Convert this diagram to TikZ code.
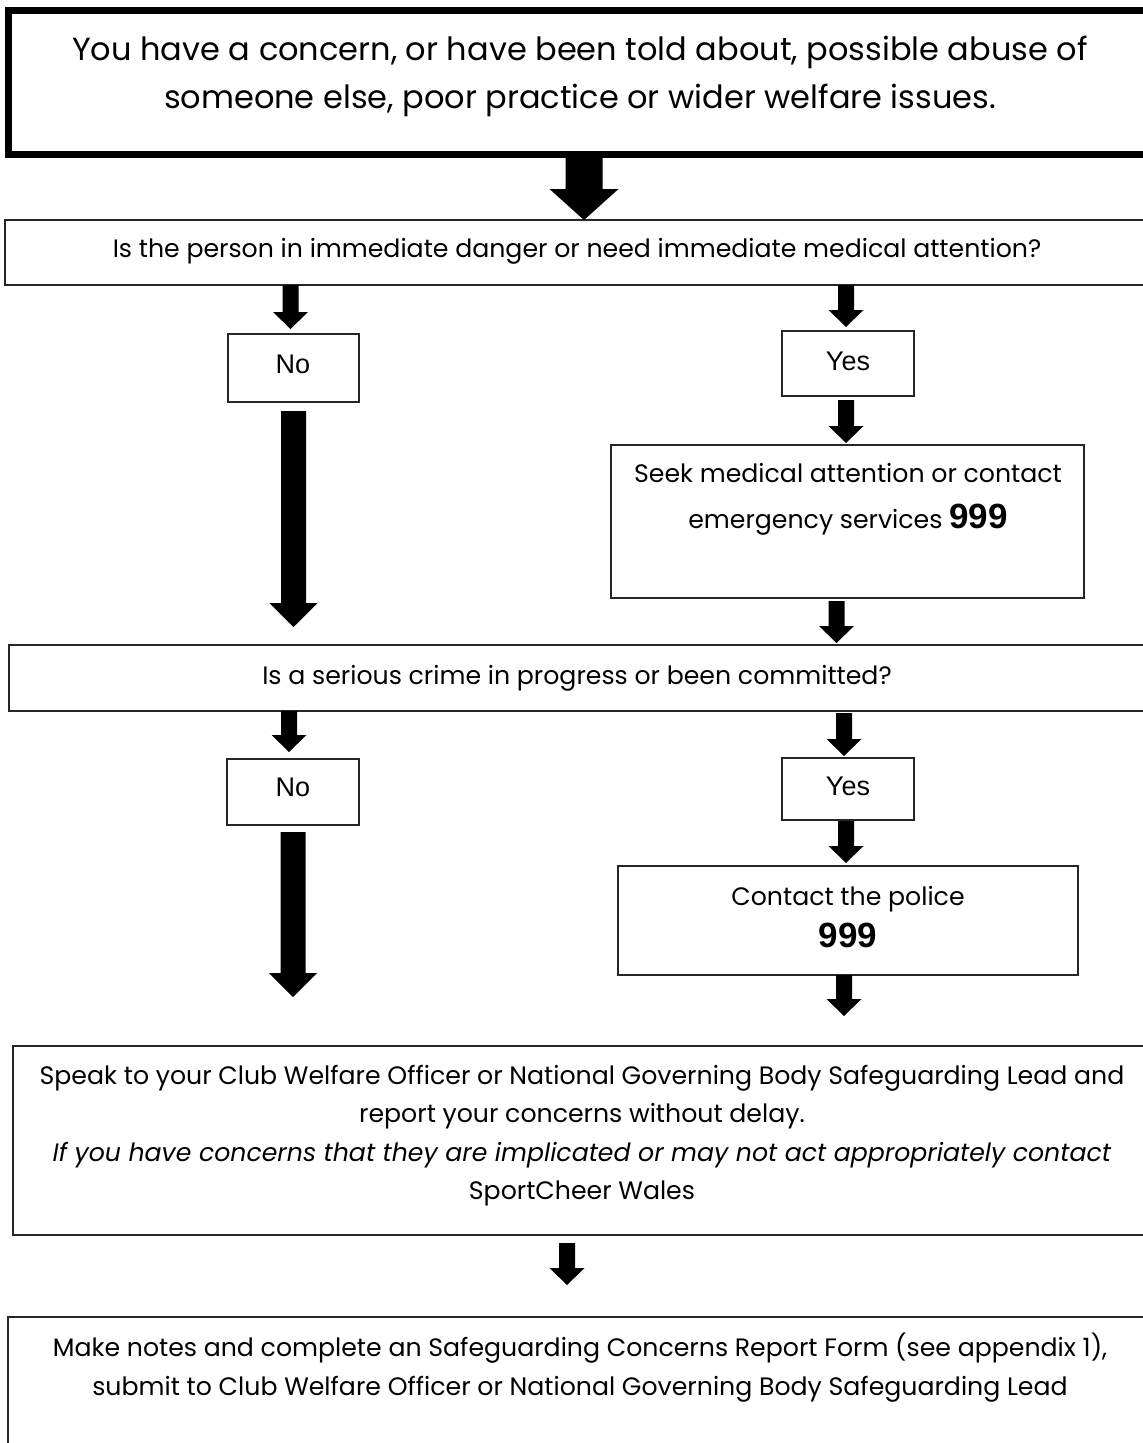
\documentclass[tikz,border=0pt]{standalone}
\usepackage{fontspec}
\setmainfont{Poppins}
\newfontfamily\arialfont{Liberation Sans}
\usetikzlibrary{calc}
% block arrow from #1 to tip #2; half shaft width #3, half head width #4, head length #5 (pt)
\newcommand\blkarrow[5]{%
  \fill let \p1=(#1), \p2=(#2) in
    (\x1-#3pt,\y1) -- (\x1+#3pt,\y1) -- (\x1+#3pt,\y2+#5pt) -- (\x1+#4pt,\y2+#5pt)
    -- (\x1,\y2) -- (\x1-#4pt,\y2+#5pt) -- (\x1-#3pt,\y2+#5pt) -- cycle;}
\begin{document}
\begin{tikzpicture}[x=1pt,y=-1pt,
  box/.style={draw=black!85, line width=1.5pt, rectangle, inner sep=0pt, outer sep=0pt},
  txt/.style={align=center, inner sep=0pt, font=\fontsize{25.2}{38}\selectfont},
  yn/.style={inner sep=0pt, font=\arialfont\fontsize{27}{30}\selectfont},
]
\useasboundingbox (0,0) rectangle (1143,1443);
\clip (0,0) rectangle (1143,1443);
% boxes
\node[box, line width=7pt, draw=black, minimum width=1152pt, minimum height=144pt] (top) at (584,82) {};
\node[box, minimum width=1155pt, minimum height=65pt] (q1) at (582.5,252.5) {};
\node[box, minimum width=131pt, minimum height=68pt] (no1) at (293.5,368) {};
\node[box, minimum width=132pt, minimum height=65pt] (yes1) at (848,363.5) {};
\node[box, minimum width=473pt, minimum height=153pt] (seek) at (847.5,521.5) {};
\node[box, minimum width=1151pt, minimum height=66pt] (q2) at (584.5,678) {};
\node[box, minimum width=132pt, minimum height=66pt] (no2) at (293,792) {};
\node[box, minimum width=132pt, minimum height=62pt] (yes2) at (848,789) {};
\node[box, minimum width=460pt, minimum height=109pt] (police) at (848,920.5) {};
\node[box, minimum width=1147pt, minimum height=189pt] (speak) at (586.5,1140.5) {};
\node[box, minimum width=1152pt, minimum height=143pt] (last) at (584,1388.5) {};
% texts
\node[txt, font=\fontsize{32}{48}\selectfont] (topt) at (580,76) {You have a concern, or have been told about, possible abuse of\\someone else, poor practice or wider welfare issues.};
\node[txt] (q1t) at (577,251) {Is the person in immediate danger or need immediate medical attention?};
\node[yn] (no1t) at (293,364) {No};
\node[yn] (yes1t) at (848,361) {Yes};
\node[txt, font=\fontsize{25.2}{46}\selectfont] (seekt) at (848,499) {Seek medical attention or contact\\emergency services {\arialfont\bfseries\fontsize{35}{46}\selectfont 999}};
\node[txt] (q2t) at (577,678) {Is a serious crime in progress or been committed?};
\node[yn] (no2t) at (293,787) {No};
\node[yn] (yes2t) at (848,786) {Yes};
\node[txt, font=\fontsize{25.2}{42}\selectfont] (policet) at (848,917) {Contact the police\\{\arialfont\bfseries\fontsize{35}{42}\selectfont 999}};
\node[txt, font=\fontsize{25.2}{38.3}\selectfont] (speakt) at (582,1135.5) {Speak to your Club Welfare Officer or National Governing Body Safeguarding Lead and\\report your concerns without delay.\\\textit{If you have concerns that they are implicated or may not act appropriately contact}\\SportCheer Wales};
\node[txt, font=\fontsize{25.2}{39}\selectfont] (lastt) at (580,1367.5) {Make notes and complete an Safeguarding Concerns Report Form (see appendix 1),\\submit to Club Welfare Officer or National Governing Body Safeguarding Lead};
% arrows
\blkarrow{top.south}{q1.north}{18.5}{34.5}{31}
\blkarrow{$(q1.south -| no1.north)+(-3,0)$}{$(no1.north)+(-3,-5)$}{8}{17.5}{17}
\blkarrow{$(q1.south -| yes1.north)+(-2,0)$}{$(yes1.north)+(-2,-4)$}{8}{17.5}{17}
\blkarrow{$(yes1.south)+(-2,4)$}{$(yes1.south |- seek.north)+(-2,-2)$}{8}{17.5}{17}
\blkarrow{$(no1.south)+(0,9)$}{$(no1.south |- q2.north)+(0,-18)$}{12.5}{24}{24}
\blkarrow{$(seek.south)+(-11,3)$}{$(seek.south |- q2.north)+(-11,-2)$}{8}{17.5}{17}
\blkarrow{$(q2.south -| no2.north)+(-4,0)$}{$(no2.north)+(-4,-7)$}{8}{17.5}{17}
\blkarrow{$(q2.south -| yes2.north)+(-4,2)$}{$(yes2.north)+(-4,-2)$}{8}{17.5}{17}
\blkarrow{$(yes2.south)+(-2,1)$}{$(yes2.south |- police.north)+(-2,-3)$}{8}{17.5}{17}
\blkarrow{$(no2.south)+(0,7)$}{$(no2.south |- speak.north)+(0,-49)$}{12.5}{24}{24}
\blkarrow{$(police.south)+(-4,0)$}{$(police.south |- speak.north)+(-4,-30)$}{8}{17.5}{17}
\blkarrow{$(speak.south)+(-19.5,8)$}{$(speak.south |- last.north)+(-19.5,-32)$}{8}{17.5}{17}
\end{tikzpicture}
\end{document}
